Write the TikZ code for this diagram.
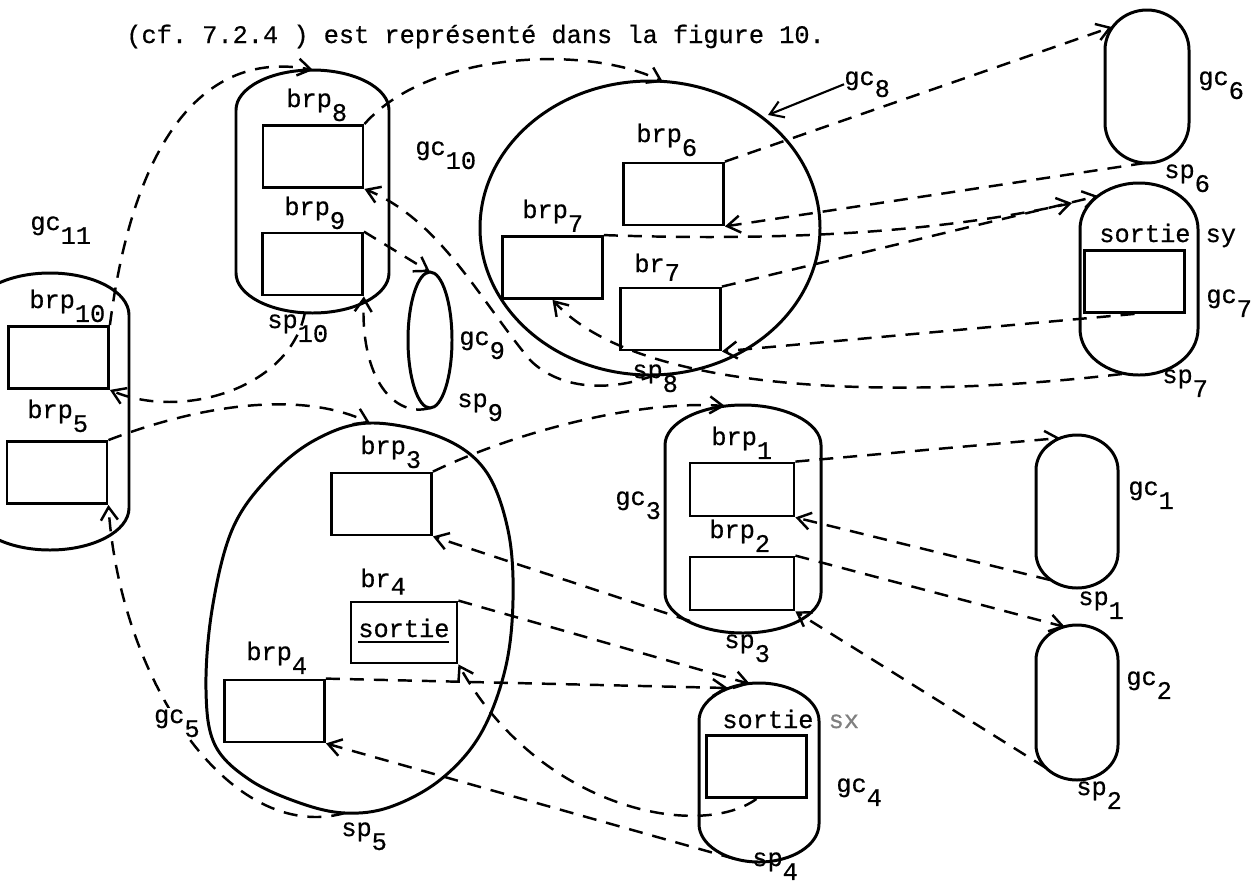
\documentclass[tikz,border=0pt]{standalone}
\usepackage{fontspec}
\setmonofont{Liberation Mono}[FakeBold=0.6]
\usetikzlibrary{arrows.meta,shapes.geometric}

\newcommand\ix[1]{\raisebox{-0.55em}{#1}}
\newcommand\capsule[5]{%
  \draw[gcline] (#1,#3+#5) .. controls (#1,#3+0.45*#5) and ({#1+0.224*(#2-(#1))},#3) .. ({(#1+#2)/2},#3)
    .. controls ({#2-0.224*(#2-(#1))},#3) and (#2,#3+0.45*#5) .. (#2,#3+#5) -- (#2,#4-#5)
    .. controls (#2,#4-0.45*#5) and ({#2-0.224*(#2-(#1))},#4) .. ({(#1+#2)/2},#4)
    .. controls ({#1+0.224*(#2-(#1))},#4) and (#1,#4-0.45*#5) .. (#1,#4-#5) -- cycle;}

\tikzset{
  gcline/.style={line width=1.7pt},
  brbox/.style={draw, line width=1.6pt, minimum width=100*0.2mm, minimum height=62*0.2mm, inner sep=0pt},
  lbl/.style={anchor=base west, inner sep=0pt, font=\ttfamily\fontsize{14.4}{17}\selectfont},
  link/.style={dash pattern=on 2.8mm off 2mm, line width=1.4pt, -{Straight Barb[length=2.6mm,width=3.4mm]}},
}

\begin{document}
\begin{tikzpicture}[x=0.2mm,y=-0.2mm]
	\useasboundingbox (0,0) rectangle (1253,887);
	\clip (0,0) rectangle (1253,887);
	\node[lbl] (title) at (126,43) {\frenchspacing(cf. 7.2.4 ) est représenté dans la figure 10.};

	\capsule{236}{389}{70}{313}{40}
	\capsule{-29}{129}{273}{550}{42}
	\capsule{1105}{1189}{10}{163}{40}
	\capsule{1080}{1198}{183}{375}{46}
	\capsule{665}{821}{405}{633}{40}
	\capsule{1036}{1118}{435}{588}{35}
	\capsule{1036}{1118}{625}{780}{35}
	\capsule{699}{819}{683}{862}{38}
	\node[draw, gcline, ellipse, minimum width=340*0.2mm, minimum height=294*0.2mm, inner sep=0pt] (gc8) at (650,228) {};
	\node[draw, gcline, ellipse, minimum width=44*0.2mm, minimum height=136*0.2mm, inner sep=0pt] (gc9) at (430,340) {};
	\draw[gcline] plot[smooth cycle, tension=0.6] coordinates {(370,423) (440,437) (485,470) (508,530) (513,600) (505,670) (480,735) (440,780) (390,807) (345,813) (300,803) (250,780) (215,745) (206,690) (212,610) (232,530) (268,478) (315,440)};

	\node[brbox] (brp8) at (313,156.5) {};
	\node[brbox] (brp9) at (312.5,264) {};
	\node[brbox] (brp10) at (58.5,357.5) {};
	\node[brbox] (brp5) at (57,472.5) {};
	\node[brbox] (brp6) at (673.5,194) {};
	\node[brbox] (brp7) at (552.5,267.5) {};
	\node[brbox] (br7) at (670.5,319) {};
	\node[brbox] (sybox) at (1134.5,281.5) {};
	\node[brbox, minimum width=104*0.2mm, minimum height=53*0.2mm] (brp1) at (742,489.5) {};
	\node[brbox, minimum width=104*0.2mm, minimum height=53*0.2mm] (brp2) at (742,583.5) {};
	\node[brbox] (brp3) at (381.5,504) {};
	\node[brbox, minimum width=106*0.2mm, minimum height=61*0.2mm] (br4) at (404,632.5) {};
	\node[brbox] (brp4) at (274.5,711) {};
	\node[brbox] (sxbox) at (756.5,766.5) {};

	\node[lbl] (brp8lbl) at (286,107) {brp\ix{8}};
	\node[lbl] (gc10lbl) at (415,155) {gc\ix{10}};
	\node[lbl] (brp9lbl) at (284,215) {brp\ix{9}};
	\node[lbl] (gc11lbl) at (30,230) {gc\ix{11}};
	\node[lbl] (brp10lbl) at (29,308) {brp\ix{10}};
	\node[lbl] (sp10lbl) at (267,328) {sp\ix{10}};
	\node[lbl] (gc9lbl) at (459,345) {gc\ix{9}};
	\node[lbl] (sp9lbl) at (457,407) {sp\ix{9}};
	\node[lbl] (brp7lbl) at (522,218) {brp\ix{7}};
	\node[lbl] (brp5lbl) at (27,418) {brp\ix{5}};
	\node[lbl] (brp3lbl) at (360,454) {brp\ix{3}};
	\node[lbl] (gc3lbl) at (615,505) {gc\ix{3}};
	\node[lbl] (br4lbl) at (360,587) {br\raisebox{-0.3em}{4}};
	\node[lbl] (sortie4) at (358,637) {sortie\llap{\rule[-1.2mm]{3.6em}{0.5mm}}};
	\node[lbl] (brp4lbl) at (246,660) {brp\ix{4}};
	\node[lbl] (sp5lbl) at (341,836) {sp\ix{5}};
	\node[lbl] (brp6lbl) at (636,142) {brp\ix{6}};
	\node[lbl] (br7lbl) at (634,272) {br\raisebox{-0.35em}{7}};
	\node[lbl] (gc8lbl) at (844,85) {gc\raisebox{-0.47em}{8}};
	\node[lbl] (sp8lbl) at (632,378) {sp\ix{8}};
	\node[lbl] (gc6lbl) at (1198,85) {gc\ix{6}};
	\node[lbl] (sp6lbl) at (1164,178) {sp\ix{6}};
	\node[lbl] (sylbl) at (1099,242) {sortie sy};
	\node[lbl] (gc7lbl) at (1206,303) {gc\ix{7}};
	\node[lbl] (sp7lbl) at (1162,383) {sp\ix{7}};
	\node[lbl] (brp1lbl) at (711,445) {brp\ix{1}};
	\node[lbl] (brp2lbl) at (709,538) {brp\ix{2}};
	\node[lbl] (sp3lbl) at (724,648) {sp\ix{3}};
	\node[lbl] (gc1lbl) at (1128,495) {gc\ix{1}};
	\node[lbl] (sp1lbl) at (1078,605) {sp\ix{1}};
	\node[lbl] (gc2lbl) at (1126,685) {gc\ix{2}};
	\node[lbl] (sp2lbl) at (1076,795) {sp\ix{2}};
	\node[lbl] (sxlbl) at (722,728) {sortie {\color{gray}sx}};
	\node[lbl] (gc4lbl) at (836,792) {gc\ix{4}};
	\node[lbl] (sp4lbl) at (752,866) {sp\ix{4}};

	\coordinate (gc10in) at (313,70);
	\coordinate (sp10pt) at (305,312);
	\coordinate (gc8in) at (663,82);
	\coordinate (sp8pt) at (655,375);
	\coordinate (gc8edge) at (768,115);
	\coordinate (gc9in) at (430,272);
	\coordinate (sp9pt) at (430,408);
	\coordinate (gc5in) at (370,423);
	\coordinate (sp5pt) at (345,813);
	\coordinate (gc3in) at (725,406);
	\coordinate (sp3pt) at (690,621);
	\coordinate (gc4ina) at (750,684);
	\coordinate (gc4inb) at (728,688);
	\coordinate (sp4pt) at (735,859);
	\coordinate (gc1in) at (1060,438);
	\coordinate (sp1pt) at (1050,580);
	\coordinate (gc2in) at (1065,627);
	\coordinate (sp2pt) at (1046,768);
	\coordinate (gc6in) at (1112,27);
	\coordinate (sp6pt) at (1145,163);
	\coordinate (gc7ina) at (1072,203);
	\coordinate (gc7inb) at (1098,196);
	\coordinate (sp7pt) at (1122,374);

	\draw[line width=1.2pt, -{Straight Barb[length=2.6mm,width=3.4mm]}] (gc8lbl.west) -- (gc8edge);
	\draw[link] (brp10.north east) .. controls (135,130) and (210,50) .. (gc10in);
	\draw[link] (sp10pt) .. controls (290,390) and (180,420) .. (brp10.south east);
	\draw[link] (brp8.north east) .. controls (430,50) and (590,45) .. (gc8in);
	\draw[link] (sp8pt) .. controls (610,392) and (560,390) .. (530,360) .. controls (480,300) and (440,220) .. (brp8.south east);
	\draw[link] (brp9.north east) -- (gc9in);
	\draw[link] (sp9pt) .. controls (395,418) and (360,380) .. (brp9.south east);
	\draw[link] (brp5.north east) .. controls (200,405) and (300,390) .. (gc5in);
	\draw[link] (sp5pt) .. controls (230,845) and (120,680) .. (brp5.south east);
	\draw[link] (brp3.north east) .. controls (520,430) and (640,400) .. (gc3in);
	\draw[link] (sp3pt) -- (brp3.south east);
	\draw[link] (br4.north east) -- (gc4ina);
	\draw[link] (brp4.north east) -- (gc4inb);
	\draw[link] (sxbox.south) .. controls (700,840) and (540,810) .. (br4.south east);
	\draw[link] (sp4pt) -- (brp4.south east);
	\draw[link] (brp1.north east) -- (gc1in);
	\draw[link] (sp1pt) -- (brp1.south east);
	\draw[link] (brp2.north east) -- (gc2in);
	\draw[link] (sp2pt) -- (brp2.south east);
	\draw[link] (brp6.north east) -- (gc6in);
	\draw[link] (sp6pt) -- (brp6.south east);
	\draw[link] (brp7.north east) .. controls (800,242) and (950,230) .. (gc7ina);
	\draw[link] (br7.north east) -- (gc7inb);
	\draw[link] (sybox.south) -- (br7.south east);
	\draw[link] (sp7pt) .. controls (900,400) and (640,395) .. (brp7.south);
	\node[lbl, fill=white, inner sep=1pt] (gc5lbl) at (152,723) {gc\ix{5}};
\end{tikzpicture}
\end{document}
